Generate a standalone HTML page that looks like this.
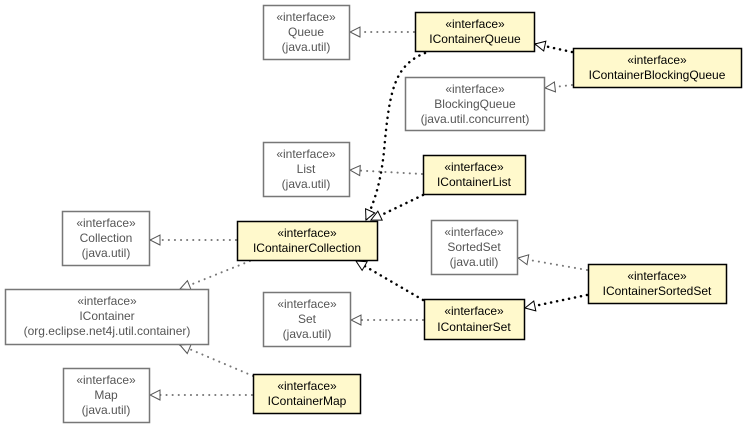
<!DOCTYPE html>
<html><head><meta charset="utf-8"><style>
html,body{margin:0;padding:0;background:#fff;width:747px;height:428px;overflow:hidden}
svg text{font-family:"Liberation Sans",sans-serif;font-size:12px;text-anchor:middle}
</style></head><body>
<svg width="747" height="428" xmlns="http://www.w3.org/2000/svg">
<defs>
<marker id="tg" markerWidth="12" markerHeight="12" refX="11" refY="6" orient="auto" markerUnits="userSpaceOnUse"><path d="M1,1 L11,6 L1,11 Z" fill="#fff" stroke="#555" stroke-width="1"/></marker>
<marker id="tb" markerWidth="12" markerHeight="12" refX="11" refY="6" orient="auto" markerUnits="userSpaceOnUse"><path d="M1,1 L11,6 L1,11 Z" fill="#fff" stroke="#000" stroke-width="1"/></marker>
</defs>
<g fill="none" stroke-linecap="round">
<g stroke="#777" stroke-width="2" stroke-dasharray="0.1,6" marker-end="url(#tg)">
<line x1="414" y1="32" x2="350" y2="32"/>
<line x1="572" y1="85" x2="545" y2="88"/>
<line x1="422" y1="174" x2="350" y2="170"/>
<line x1="236" y1="240" x2="150" y2="240"/>
<line x1="250" y1="261" x2="180" y2="289"/>
<line x1="423" y1="320" x2="351" y2="320"/>
<line x1="587" y1="270" x2="518" y2="258"/>
<line x1="253" y1="376" x2="180" y2="345"/>
<line x1="252" y1="395" x2="150" y2="395"/>
</g>
<g stroke="#000" stroke-width="2.5" stroke-dasharray="0.1,6" marker-end="url(#tb)">
<line x1="572" y1="52" x2="535" y2="44"/>
<path d="M425,53 C395,65 390,90 385,140 C382,180 375,200 366,220"/>
<line x1="423" y1="195" x2="371" y2="220"/>
<line x1="423" y1="300" x2="356" y2="261"/>
<line x1="587" y1="295" x2="525" y2="308"/>
</g>
</g>
<g stroke-width="1.5">
<g fill="#fff" stroke="#777">
<rect x="263.5" y="5.5" width="86" height="54"/>
<rect x="405.5" y="77.5" width="139" height="53"/>
<rect x="263.5" y="142.5" width="86" height="54"/>
<rect x="62.5" y="211.5" width="87" height="54"/>
<rect x="431.5" y="220.5" width="86" height="54"/>
<rect x="5.5" y="289.5" width="203" height="55"/>
<rect x="263.5" y="292.5" width="87" height="54"/>
<rect x="63.5" y="368.5" width="86" height="54"/>
</g>
<g fill="#fff9cc" stroke="#000">
<rect x="415.5" y="12.5" width="119" height="39"/>
<rect x="573.5" y="48.5" width="168" height="39"/>
<rect x="423.5" y="155.5" width="102" height="39"/>
<rect x="237.5" y="221.5" width="140" height="39"/>
<rect x="588.5" y="264.5" width="138" height="39"/>
<rect x="424.5" y="299.5" width="100" height="40"/>
<rect x="253.5" y="374.5" width="107" height="39"/>
</g>
</g>
<g fill="#555">
<text x="306" y="21">«interface»</text><text x="306" y="36">Queue</text><text x="306" y="51">(java.util)</text>
<text x="475" y="93">«interface»</text><text x="475" y="108">BlockingQueue</text><text x="475" y="123">(java.util.concurrent)</text>
<text x="306" y="158">«interface»</text><text x="306" y="173">List</text><text x="306" y="188">(java.util)</text>
<text x="106" y="227">«interface»</text><text x="106" y="242">Collection</text><text x="106" y="257">(java.util)</text>
<text x="474" y="236">«interface»</text><text x="474" y="251">SortedSet</text><text x="474" y="266">(java.util)</text>
<text x="107" y="305">«interface»</text><text x="107" y="320">IContainer</text><text x="107" y="335">(org.eclipse.net4j.util.container)</text>
<text x="307" y="308">«interface»</text><text x="307" y="323">Set</text><text x="307" y="338">(java.util)</text>
<text x="106" y="384">«interface»</text><text x="106" y="399">Map</text><text x="106" y="414">(java.util)</text>
</g>
<g fill="#000">
<text x="475" y="28">«interface»</text><text x="475" y="43">IContainerQueue</text>
<text x="657" y="64">«interface»</text><text x="657" y="79">IContainerBlockingQueue</text>
<text x="474" y="171">«interface»</text><text x="474" y="186">IContainerList</text>
<text x="307" y="237">«interface»</text><text x="307" y="252">IContainerCollection</text>
<text x="657" y="280">«interface»</text><text x="657" y="295">IContainerSortedSet</text>
<text x="474" y="315">«interface»</text><text x="474" y="331">IContainerSet</text>
<text x="307" y="390">«interface»</text><text x="307" y="405">IContainerMap</text>
</g>
</svg>
</body></html>
